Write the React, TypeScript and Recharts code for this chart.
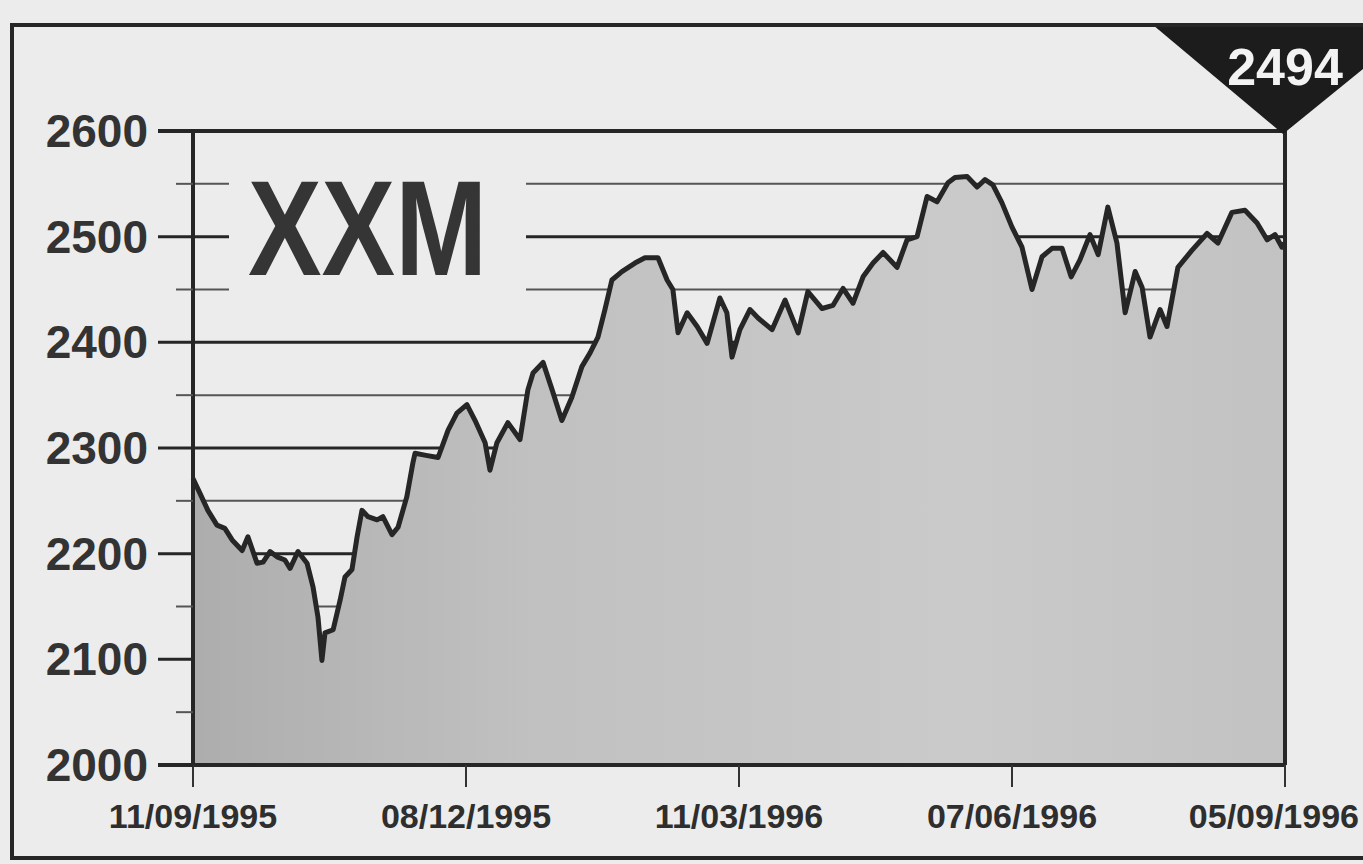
import React from "react";
import { AreaChart, Area, XAxis, YAxis, ReferenceLine, ReferenceDot } from "recharts";

// trading position along the axis (0 = 11/09/1995, 360 = 05/09/1996) and index close
const days = [
  0, 2.3, 4.9, 7.9, 10.5, 12.9, 16.2, 18.1, 21.1, 23.1, 25.4, 27.7, 30.3, 32.0, 34.6, 37.6,
  39.6, 41.2, 42.5, 43.5, 46.2, 48.5, 50.1, 52.4, 54.1, 55.7, 57.7, 60.7, 62.6, 65.6, 67.6,
  70.5, 72.5, 73.2, 76.8, 80.8, 84.1, 87.0, 90.3, 93.0, 96.3, 97.9, 100.2, 103.8, 107.8,
  110.4, 112.1, 115.4, 118.4, 121.6, 124.9, 128.2, 130.9, 133.5, 135.8, 138.1, 141.4, 145.7,
  149.0, 153.3, 156.3, 158.2, 159.9, 162.9, 166.2, 169.5, 173.7, 176.0, 177.7, 180.3, 183.6,
  186.3, 190.9, 195.2, 199.5, 202.7, 207.4, 211.0, 214.3, 217.6, 220.9, 224.2, 227.5, 232.1,
  235.4, 238.7, 242.0, 245.3, 248.9, 251.2, 255.2, 258.5, 261.1, 263.7, 266.7, 270.0, 273.3,
  276.6, 279.9, 283.2, 286.5, 289.5, 292.4, 295.7, 298.4, 301.6, 304.6, 307.3, 310.6, 312.9,
  315.5, 318.8, 321.1, 324.7, 329.3, 334.3, 337.9, 342.5, 346.8, 350.8, 354.1, 356.7, 359.0, 360,
];

const closes = [
  2271, 2257, 2241, 2227, 2224, 2213, 2203, 2216, 2191, 2192, 2202, 2197, 2194, 2186, 2202, 2191,
  2168, 2140, 2099, 2125, 2128, 2156, 2178, 2185, 2216, 2241, 2235, 2232, 2235, 2218, 2225,
  2254, 2286, 2295, 2293, 2291, 2317, 2333, 2341, 2326, 2305, 2279, 2305, 2324, 2308,
  2355, 2371, 2381, 2355, 2326, 2348, 2377, 2390, 2405, 2431, 2459, 2467, 2475,
  2480, 2480, 2459, 2450, 2409, 2428, 2415, 2399, 2442, 2428, 2386, 2412, 2431,
  2423, 2412, 2440, 2409, 2448, 2432, 2435, 2451, 2437, 2462, 2475, 2485, 2471,
  2497, 2500, 2538, 2533, 2551, 2556, 2557, 2547, 2554, 2549, 2532, 2509, 2490,
  2450, 2481, 2489, 2489, 2462, 2478, 2502, 2483, 2528, 2494, 2428, 2467, 2452,
  2405, 2431, 2415, 2471, 2487, 2503, 2494, 2523, 2525, 2513, 2497, 2502, 2490, 2494,
];

const dateTicks = [0, 90, 180, 270, 360];
const dateLabels = ["11/09/1995", "08/12/1995", "11/03/1996", "07/06/1996", "05/09/1996"];
const levelTicks = [2000, 2050, 2100, 2150, 2200, 2250, 2300, 2350, 2400, 2450, 2500, 2550, 2600];
const majorLevels = [2100, 2200, 2300, 2400, 2500];
const minorLevels = [2050, 2150, 2250, 2350, 2450, 2550];
const indexName = "XXM";

const data = days.map((d, i) => ({ day: d, close: closes[i] }));
const lastClose = closes[closes.length - 1];

const font = "'Liberation Sans', Arial, Helvetica, sans-serif";
const ink = "#262626";
const paper = "#ececec";

function LevelTick(props: any) {
  const { x, y, payload } = props;
  const v = payload.value as number;
  const major = v % 100 === 0;
  const edge = v === 2000 || v === 2600;
  return (
    <g>
      <line
        x1={major ? x - 35 : x - 17}
        x2={x}
        y1={y}
        y2={y}
        stroke={major ? ink : "#555"}
        strokeWidth={edge ? 4 : major ? 3 : 2}
      />
      {major && (
        <text x={x - 45} y={y + 16} textAnchor="end" fontSize={46} fontWeight="bold" fill="#333" fontFamily={font}>
          {v}
        </text>
      )}
    </g>
  );
}

function DateTick(props: any) {
  const { x, y, payload } = props;
  const i = dateTicks.indexOf(payload.value);
  const last = i === dateTicks.length - 1;
  return (
    <g>
      <line x1={x} x2={x} y1={y} y2={y + 22} stroke="#333" strokeWidth={2} />
      <text
        x={last ? 1359 : x}
        y={y + 63}
        textAnchor={last ? "end" : "middle"}
        fontSize={34}
        fontWeight="bold"
        fill="#2e2e2e"
        fontFamily={font}
      >
        {dateLabels[i]}
      </text>
    </g>
  );
}

function LastMarker(props: any) {
  const { cx, cy } = props;
  return (
    <g>
      <polygon points={`${cx - 132},${cy - 106} ${cx + 132},${cy - 106} ${cx - 2},${cy + 3}`} fill="#1c1c1c" />
      <text x={cx} y={cy - 46} textAnchor="middle" fontSize={52} fontWeight="bold" fill="#f2f2f2" fontFamily={font}>
        {lastClose}
      </text>
    </g>
  );
}

export default function App() {
  return (
    <div style={{ position: "absolute", left: 0, top: 0, width: 1363, height: 864, overflow: "hidden", background: paper }}>
      <AreaChart width={1363} height={864} data={data} margin={{ top: 131, right: 78, bottom: 0, left: 0 }}>
        <defs>
          <linearGradient id="xxmFill" x1="0" y1="0" x2="1" y2="0">
            <stop offset="0%" stopColor="#adadad" />
            <stop offset="30%" stopColor="#c0c0c0" />
            <stop offset="70%" stopColor="#cacaca" />
            <stop offset="100%" stopColor="#c2c2c2" />
          </linearGradient>
        </defs>
        {minorLevels.map((v) => (
          <ReferenceLine key={"m" + v} y={v} stroke="#555" strokeWidth={2} zIndex={-50} />
        ))}
        {majorLevels.map((v) => (
          <ReferenceLine key={"M" + v} y={v} stroke={ink} strokeWidth={3} zIndex={-50} />
        ))}
        <Area
          type="linear"
          dataKey="close"
          stroke={ink}
          strokeWidth={5}
          strokeLinejoin="round"
          fill="url(#xxmFill)"
          fillOpacity={1}
          baseValue={2000}
          dot={false}
          activeDot={false}
          isAnimationActive={false}
        />
        <XAxis
          dataKey="day"
          type="number"
          domain={[0, 360]}
          ticks={dateTicks}
          interval={0}
          height={99}
          tickSize={0}
          tickMargin={0}
          tickLine={false}
          axisLine={{ stroke: ink, strokeWidth: 4 }}
          tick={<DateTick />}
        />
        <YAxis
          type="number"
          domain={[2000, 2600]}
          ticks={levelTicks}
          interval={0}
          width={193}
          tickSize={0}
          tickMargin={0}
          tickLine={false}
          axisLine={{ stroke: ink, strokeWidth: 4 }}
          tick={<LevelTick />}
          allowDataOverflow
        />
        <ReferenceLine y={2600} stroke={ink} strokeWidth={4} />
        <ReferenceLine x={360} stroke={ink} strokeWidth={4} />
        <ReferenceDot x={360} y={2600} r={0} ifOverflow="visible" shape={(p: any) => <LastMarker {...p} />} />
      </AreaChart>
      <svg width={1363} height={864} style={{ position: "absolute", left: 0, top: 0, pointerEvents: "none" }}>
        <rect x={12} y={25} width={1420} height={833} fill="none" stroke={ink} strokeWidth={4} />
        <rect x={229} y={160} width={297} height={148} fill={paper} />
        <text
          x={248}
          y={275}
          fontSize={135}
          fontWeight="bold"
          fill="#353535"
          fontFamily={font}
          textLength={239}
          lengthAdjust="spacingAndGlyphs"
        >
          {indexName}
        </text>
      </svg>
    </div>
  );
}
